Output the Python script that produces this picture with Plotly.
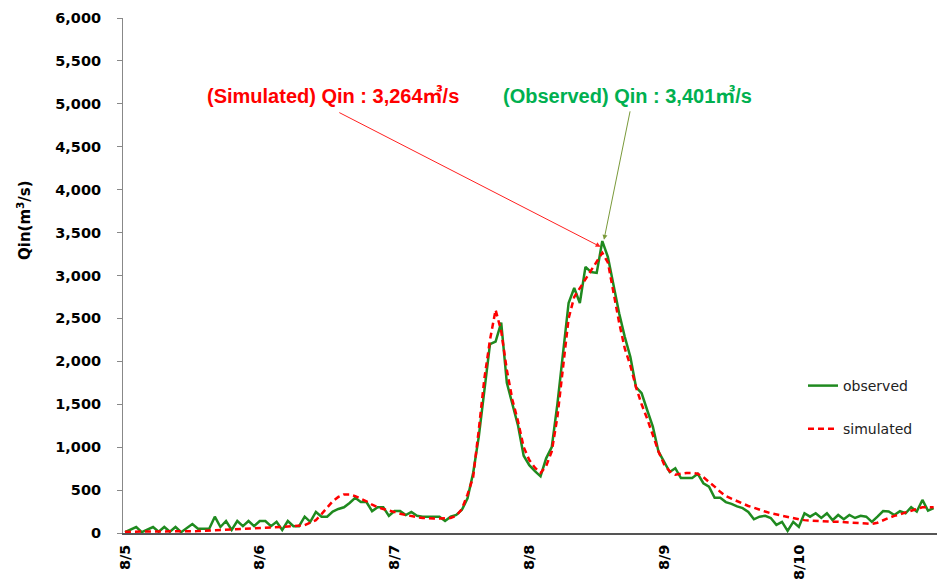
import plotly.graph_objects as go

# ---------------- data (hourly, starting 8/5 00:00) ----------------
observed = [
    10, 40, 70, 10, 40, 70, 15, 70, 15, 70, 10, 60,
    105, 50, 50, 50, 190, 70, 140, 35, 140, 80, 140, 80,
    140, 140, 80, 130, 35, 140, 80, 80, 190, 130, 245, 190,
    190, 250, 280, 300, 350, 410, 360, 360, 255, 300, 300, 200,
    255, 255, 210, 245, 200, 190, 190, 190, 190, 140, 190, 210,
    270, 405, 700, 1120, 1670, 2200, 2230, 2450, 1750, 1500, 1250, 900,
    790, 720, 660, 870, 1000, 1500, 2100, 2680, 2855, 2680, 3100, 3040,
    3030, 3401, 3215, 2870, 2560, 2285, 2050, 1700, 1630, 1430, 1240, 950,
    830, 710, 755, 640, 640, 640, 690, 580, 540, 410, 410, 360,
    340, 310, 290, 245, 160, 190, 200, 175, 95, 130, 25, 130,
    70, 230, 190, 230, 175, 230, 150, 210, 160, 210, 175, 200,
    190, 130, 190, 255, 250, 210, 255, 230, 300, 250, 385, 260,
    290,
]
simulated = [
    15, 15, 15, 15, 15, 15, 15, 18, 18, 20, 20, 20,
    20, 22, 25, 28, 30, 32, 35, 38, 40, 45, 50, 55,
    60, 62, 65, 68, 70, 75, 80, 85, 90, 120, 150, 220,
    300, 370, 420, 450, 450, 430, 400, 370, 330, 300, 280, 260,
    245, 225, 210, 195, 185, 175, 170, 170, 170, 170, 175, 200,
    280, 450, 650, 1200, 1800, 2250, 2600, 2350, 1900, 1550, 1300, 1000,
    850, 760, 700, 780, 950, 1350, 1900, 2500, 2750, 2850, 2950, 3050,
    3150, 3264, 3150, 2800, 2450, 2150, 1950, 1700, 1500, 1330, 1150, 950,
    800, 720, 680, 690, 700, 700, 690, 650, 600, 540, 480, 430,
    400, 370, 340, 315, 295, 270, 250, 230, 215, 200, 185, 170,
    160, 150, 145, 140, 140, 135, 130, 130, 128, 125, 125, 115,
    110, 105, 120, 150, 175, 200, 215, 240, 260, 280, 300, 300,
    300,
]
day_labels = ["8/5", "8/6", "8/7", "8/8", "8/9", "8/10"]
y_ticks = [0, 500, 1000, 1500, 2000, 2500, 3000, 3500, 4000, 4500, 5000, 5500, 6000]
HOURS_PER_DAY = 24

hours = list(range(len(observed)))
tick_vals = [i * HOURS_PER_DAY for i in range(len(day_labels))]

OBS_COLOR = "#1f8a1f"
SIM_COLOR = "#ff0000"
TICK_FONT = dict(family="DejaVu Sans", size=14.5, color="#000000")

L, T, B = 123, 18, 49
PW, PH = 937 - L, 582 - T - B


def px(xp):
    return (xp - L) / PW


def py(yp):
    return (582 - B - yp) / PH


fig = go.Figure()
fig.add_trace(go.Scatter(
    x=hours, y=observed, mode="lines", name="observed", legendgroup="a",
    line=dict(color=OBS_COLOR, width=2.5),
))
fig.add_trace(go.Scatter(
    x=hours, y=simulated, mode="lines", name="simulated", legendgroup="b",
    line=dict(color=SIM_COLOR, width=2.5, dash="6px,4px"),
))

obs_peak_i = max(hours, key=lambda i: observed[i])
sim_peak_i = max(hours, key=lambda i: simulated[i])

annotations = [
    # y axis title
    dict(text="<b>Qin(m<sup>3</sup>/s)</b>", xref="paper", yref="paper",
         x=px(24), y=py(220), xanchor="center", yanchor="middle",
         showarrow=False, textangle=-90,
         font=dict(family="DejaVu Sans", size=15, color="#000")),
    # labels
    dict(text="<b>(Simulated) Qin : 3,264㎥/s</b>", xref="paper", yref="paper",
         x=px(333), y=py(96), xanchor="center", yanchor="middle", showarrow=False,
         font=dict(family="Liberation Sans, Noto Sans CJK KR", size=20, color=SIM_COLOR)),
    dict(text="<b>(Observed) Qin : 3,401㎥/s</b>", xref="paper", yref="paper",
         x=px(627), y=py(96), xanchor="center", yanchor="middle", showarrow=False,
         font=dict(family="Liberation Sans, Noto Sans CJK KR", size=20, color="#00b050")),
    # arrows
    dict(text="", x=sim_peak_i - 0.3, y=simulated[sim_peak_i] + 70,
         ax=sim_peak_i - 47.1, ay=4907, xref="x", yref="y", axref="x", ayref="y",
         showarrow=True, arrowhead=2, arrowsize=1, arrowwidth=1, arrowcolor="#ff2020"),
    dict(text="", x=obs_peak_i + 0.3, y=observed[obs_peak_i] + 15,
         ax=obs_peak_i + 5.0, ay=4930, xref="x", yref="y", axref="x", ayref="y",
         showarrow=True, arrowhead=2, arrowsize=1, arrowwidth=1, arrowcolor="#7a9a3a"),
]

fig.update_layout(
    width=937, height=582,
    margin=dict(l=L, r=0, t=T, b=B),
    paper_bgcolor="white", plot_bgcolor="white",
    showlegend=True,
    legend=dict(x=px(803), y=py(370), xanchor="left", yanchor="top",
                bgcolor="rgba(0,0,0,0)", borderwidth=0, traceorder="grouped",
                tracegroupgap=22, font=dict(family="DejaVu Sans", size=14, color="#222")),
    annotations=annotations,
    font=dict(family="DejaVu Sans"),
)
fig.update_xaxes(
    range=[-0.35, len(observed) - 0.4],
    tickvals=tick_vals, ticktext=[f"<b>{t}</b>" for t in day_labels],
    tickangle=-90, ticks="", showgrid=False, zeroline=False, ticklabelstandoff=4,
    showline=True, linecolor="#555555", linewidth=1.5,
    tickfont=TICK_FONT,
)
fig.update_yaxes(
    range=[0, 6000], tickvals=y_ticks,
    ticktext=[f"<b>{v:,}</b>" for v in y_ticks],
    ticks="outside", ticklen=5, tickcolor="#888888", ticklabelstandoff=13,
    showgrid=False, zeroline=False, showline=True, linecolor="#888888", linewidth=1,
    tickfont=TICK_FONT,
)

fig.write_html("out.html")
